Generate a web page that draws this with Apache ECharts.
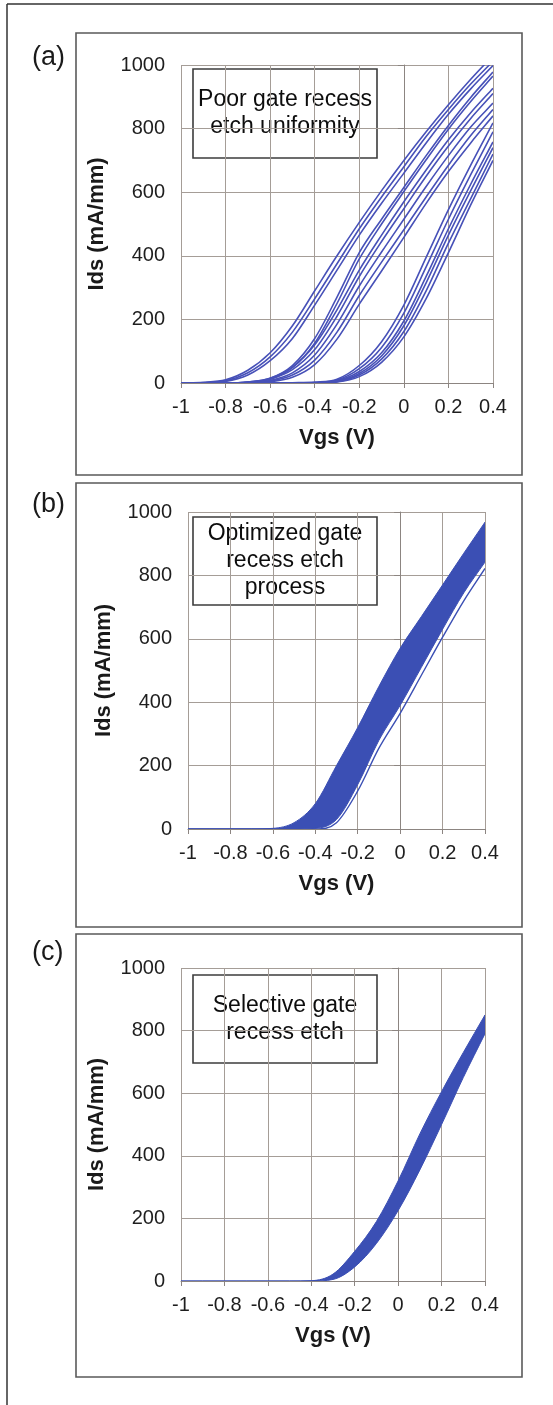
<!DOCTYPE html>
<html>
<head>
<meta charset="utf-8">
<script src="https://cdn.jsdelivr.net/npm/echarts@6/dist/echarts.min.js"></script>
<style>
  html, body { margin: 0; padding: 0; background: #fff; }
  #chart { width: 553px; height: 1405px; }
</style>
</head>
<body>
<div id="chart"></div>
<script>
// Vgs sample points (V), shared by all three panels
const vgs = [-1, -0.9, -0.8, -0.7, -0.6, -0.5, -0.4, -0.3, -0.2, -0.1, 0, 0.1, 0.2, 0.3, 0.4];
const xTickLabels = ['-1', '-0.8', '-0.6', '-0.4', '-0.2', '0', '0.2', '0.4'];
const yTickLabels = ['0', '200', '400', '600', '800', '1000'];

// (a) poor gate recess etch uniformity: one Ids curve (mA/mm) per device
const idsA = [
  [0, 2, 10, 40, 95, 180, 290, 400, 505, 605, 700, 790, 875, 955, 1030],
  [0, 1, 7, 32, 82, 160, 265, 375, 485, 585, 680, 775, 860, 940, 1012],
  [0, 1, 5, 25, 70, 140, 245, 355, 465, 565, 660, 755, 845, 925, 998],
  [0, 0, 0, 3, 15, 55, 140, 270, 410, 515, 615, 715, 810, 898, 978],
  [0, 0, 0, 2, 12, 48, 125, 250, 390, 500, 602, 702, 798, 885, 965],
  [0, 0, 0, 3, 15, 50, 120, 230, 355, 465, 570, 670, 765, 850, 927],
  [0, 0, 0, 2, 12, 42, 105, 210, 335, 445, 548, 650, 745, 832, 910],
  [0, 0, 0, 1, 8, 32, 88, 185, 305, 412, 515, 618, 715, 805, 880],
  [0, 0, 0, 1, 6, 25, 72, 160, 275, 380, 482, 585, 685, 778, 860],
  [0, 0, 0, 0, 4, 18, 58, 138, 248, 352, 458, 565, 665, 755, 840],
  [0, 0, 0, 0, 0, 1, 3, 12, 55, 130, 245, 395, 545, 685, 818],
  [0, 0, 0, 0, 0, 0, 1, 9, 45, 112, 220, 365, 515, 655, 790],
  [0, 0, 0, 0, 0, 0, 1, 7, 36, 95, 195, 335, 485, 625, 758],
  [0, 0, 0, 0, 0, 0, 0, 5, 30, 85, 180, 315, 465, 605, 740],
  [0, 0, 0, 0, 0, 0, 0, 4, 25, 75, 162, 290, 440, 580, 720],
  [0, 0, 0, 0, 0, 0, 0, 3, 20, 65, 145, 265, 410, 560, 700]
];

// (b) optimized process: edges of the dense bundle plus the one outlier curve
const idsBUpper = [0, 0, 0, 0, 2, 20, 80, 200, 320, 450, 570, 670, 770, 870, 968];
const idsBLower = [0, 0, 0, 0, 0, 0, 2, 30, 140, 280, 390, 510, 630, 745, 842];
const idsBOutlier = [0, 0, 0, 0, 0, 0, 0, 20, 120, 255, 365, 485, 605, 720, 822];

// (c) selective etch: edges of the narrow bundle
const idsCUpper = [0, 0, 0, 0, 0, 0, 1, 22, 95, 190, 320, 470, 605, 730, 850];
const idsCLower = [0, 0, 0, 0, 0, 0, 0, 5, 45, 120, 225, 355, 500, 650, 790];

const FONT = '"Liberation Sans", Arial, sans-serif';
const BLUE = '#3b4fb4';
const LINE_BLUE = '#4751b8';
const GRID_COLOR = '#a59d97';
const AXIS_COLOR = '#8c8581';

const grids = [
  { left: 181, top: 65, width: 312, height: 318 },
  { left: 188, top: 512, width: 297, height: 317 },
  { left: 181, top: 968, width: 304, height: 313 }
];

const xAxes = grids.map((g, i) => ({
  type: 'value', gridIndex: i, min: -1, max: 0.4, interval: 0.2,
  name: 'Vgs (V)', nameLocation: 'middle', nameGap: 44,
  nameTextStyle: { fontFamily: FONT, fontSize: 22, fontWeight: 'bold', color: '#1a1a1a' },
  axisLine: { show: true, onZero: false, lineStyle: { color: AXIS_COLOR, width: 1 } },
  axisTick: { show: true, inside: false, length: 5, lineStyle: { color: AXIS_COLOR } },
  axisLabel: {
    margin: 14, fontFamily: FONT, fontSize: 20, color: '#1e1e1e',
    formatter: v => xTickLabels[Math.round((v + 1) / 0.2)]
  },
  splitLine: { show: true, lineStyle: { color: GRID_COLOR, width: 1 } }
}));

const yAxes = grids.map((g, i) => ({
  type: 'value', gridIndex: i, min: 0, max: 1000, interval: 200,
  name: 'Ids (mA/mm)', nameLocation: 'middle', nameGap: 73,
  nameTextStyle: { fontFamily: FONT, fontSize: 22, fontWeight: 'bold', color: '#1a1a1a' },
  axisLine: { show: true, lineStyle: { color: AXIS_COLOR, width: 1 } },
  axisTick: { show: true, inside: false, length: 6, lineStyle: { color: AXIS_COLOR } },
  axisLabel: {
    margin: 16, fontFamily: FONT, fontSize: 20, color: '#1e1e1e',
    formatter: v => yTickLabels[Math.round(v / 200)]
  },
  splitLine: { show: true, lineStyle: { color: GRID_COLOR, width: 1 } }
}));

// monotone cubic (Fritsch-Carlson) through the read points, as bezier pieces in data space
function hermite(xs, ys) {
  const n = xs.length, d = [], m = [];
  for (let i = 0; i < n - 1; i++) d.push((ys[i + 1] - ys[i]) / (xs[i + 1] - xs[i]));
  m[0] = d[0];
  m[n - 1] = d[n - 2];
  for (let i = 1; i < n - 1; i++) m[i] = d[i - 1] * d[i] <= 0 ? 0 : (d[i - 1] + d[i]) / 2;
  for (let i = 0; i < n - 1; i++) {
    if (d[i] === 0) { m[i] = 0; m[i + 1] = 0; continue; }
    const a = m[i] / d[i], b = m[i + 1] / d[i], s = a * a + b * b;
    if (s > 9) {
      const t = 3 / Math.sqrt(s);
      m[i] = t * a * d[i];
      m[i + 1] = t * b * d[i];
    }
  }
  const segs = [];
  for (let i = 0; i < n - 1; i++) {
    const h = xs[i + 1] - xs[i];
    segs.push([
      [xs[i] + h / 3, ys[i] + m[i] * h / 3],
      [xs[i + 1] - h / 3, ys[i + 1] - m[i + 1] * h / 3],
      [xs[i + 1], ys[i + 1]]
    ]);
  }
  return segs;
}

function curvePath(api, xs, ys, move) {
  const p0 = api.coord([xs[0], ys[0]]);
  let s = (move ? 'M' : 'L') + p0[0] + ' ' + p0[1];
  hermite(xs, ys).forEach(seg => {
    const c = seg.map(p => api.coord(p));
    s += ' C' + c[0][0] + ' ' + c[0][1] + ' ' + c[1][0] + ' ' + c[1][1] + ' ' + c[2][0] + ' ' + c[2][1];
  });
  return s;
}

function linesSeries(panel, curves, color, width) {
  return {
    type: 'custom', coordinateSystem: 'cartesian2d', xAxisIndex: panel, yAxisIndex: panel,
    clip: true, silent: true, animation: false,
    data: curves.map((c, i) => i),
    renderItem: (params, api) => ({
      type: 'path',
      shape: { pathData: curvePath(api, vgs, curves[params.dataIndex], true) },
      style: { fill: null, stroke: color, lineWidth: width }
    })
  };
}

function bandSeries(panel, upper, lower) {
  const rx = vgs.slice().reverse();
  return {
    type: 'custom', coordinateSystem: 'cartesian2d', xAxisIndex: panel, yAxisIndex: panel,
    clip: true, silent: true, animation: false,
    data: [0],
    renderItem: (params, api) => ({
      type: 'path',
      shape: { pathData: curvePath(api, vgs, upper, true) + ' ' + curvePath(api, rx, lower.slice().reverse(), false) + ' Z' },
      style: { fill: BLUE, stroke: BLUE, lineWidth: 1 }
    })
  };
}

const series = [
  linesSeries(0, idsA, LINE_BLUE, 1.6),
  bandSeries(1, idsBUpper, idsBLower),
  linesSeries(1, [idsBOutlier], BLUE, 1.4),
  bandSeries(2, idsCUpper, idsCLower)
];

function frame(top, bottom) {
  return {
    type: 'rect', z: 0, silent: true,
    shape: { x: 76, y: top, width: 446, height: bottom - top },
    style: { fill: 'none', stroke: '#5a5a5a', lineWidth: 1.6 }
  };
}

function note(x, y, w, h, text) {
  return {
    type: 'group', z: 100, silent: true,
    children: [
      { type: 'rect', shape: { x: x, y: y, width: w, height: h },
        style: { fill: '#fff', stroke: '#3c3c3c', lineWidth: 1.6 } },
      { type: 'text', style: {
          text: text, x: x + w / 2, y: y + h / 2, align: 'center', verticalAlign: 'middle',
          font: '23px ' + FONT, lineHeight: 27, fill: '#0d0d0d'
        } }
    ]
  };
}

function tag(y, text) {
  return {
    type: 'text', z: 10, silent: true,
    style: { text: text, x: 32, y: y, verticalAlign: 'middle', font: '27px ' + FONT, fill: '#1a1a1a' }
  };
}

const graphic = [
  { type: 'line', silent: true, shape: { x1: 7, y1: 4, x2: 553, y2: 4 }, style: { stroke: '#333', lineWidth: 1.5 } },
  { type: 'line', silent: true, shape: { x1: 7, y1: 4, x2: 7, y2: 1405 }, style: { stroke: '#333', lineWidth: 1.5 } },
  frame(33, 475), frame(483, 927), frame(934, 1377),
  tag(58, '(a)'), tag(505, '(b)'), tag(953, '(c)'),
  note(193, 69, 184, 89, 'Poor gate recess\netch uniformity'),
  note(193, 517, 184, 88, 'Optimized gate\nrecess etch\nprocess'),
  note(193, 975, 184, 88, 'Selective gate\nrecess etch')
];

const chart = echarts.init(document.getElementById('chart'), null, { renderer: 'canvas' });
chart.setOption({
  backgroundColor: '#fff',
  animation: false,
  grid: grids,
  xAxis: xAxes,
  yAxis: yAxes,
  series: series,
  graphic: graphic
});
</script>
</body>
</html>
